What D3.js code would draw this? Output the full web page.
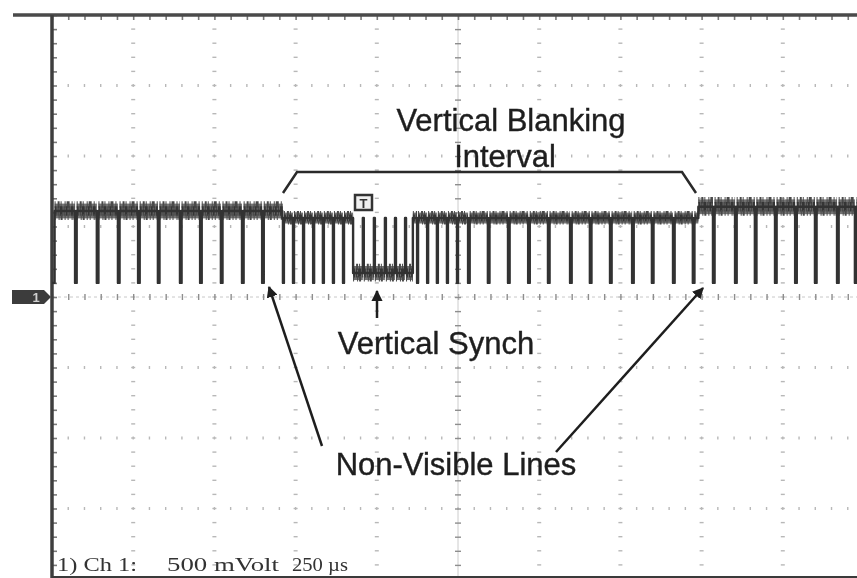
<!DOCTYPE html>
<html>
<head>
<meta charset="utf-8">
<script src="https://cdn.jsdelivr.net/npm/d3@7"></script>
<style>
  body { margin: 0; background: #fff; }
  svg { display: block; }
  .note { font-family: "Liberation Sans", Arial, sans-serif; font-size: 31px; fill: #1e1e1e; stroke: #1e1e1e; stroke-width: 0.4px; }
  .readout { font-family: "Liberation Serif", "Times New Roman", serif; font-size: 19px; fill: #333; }
</style>
</head>
<body>
<div class="chart"></div>
<script>
var svgWidth = 857;
var svgHeight = 578;

// time in microseconds, 250 us / div ; volts, 500 mV / div
// sync pulses of the visible lines before the blanking interval
var linesBefore = [71, 138, 203, 265, 326, 394, 456, 520, 585, 647];
// pre-equalizing pulses (half line)
var preEq = [711, 742, 773, 804, 834, 865, 896];
// vertical sync broad pulse and its serrations
var vsync = [927, 1111];
var serrations = [957, 991, 1025, 1056, 1087];
// post-equalizing pulses
var postEq = [1124, 1155, 1185, 1216, 1247];
// non-visible lines inside the blanking interval
var blankLines = [1281, 1342, 1404, 1466, 1527, 1595, 1656, 1718, 1786, 1847, 1912, 1973];
// visible lines after the blanking interval
var linesAfter = [2035, 2103, 2164, 2226, 2288, 2349, 2417, 2472];
var vbiEnd = 1990;

// levels (V)
var syncTip = 0.10;
var vsyncLow = 0.17;
var blankLevel = 0.56;
var videoBefore = 0.61;
var videoAfter = 0.64;

// scope readout
var readout = ["1) Ch 1:", "500 mVolt", "250 µs"];

var margin = { left: 52, top: 15 };
var gridRight = 864;
var gridBottom = 579;

var x = d3.scaleLinear().domain([0, 2500]).range([margin.left, gridRight]);
var y = d3.scaleLinear().domain([-2, 2]).range([gridBottom, margin.top]);

var svg = d3.select(".chart")
  .append("svg")
  .attr("width", svgWidth)
  .attr("height", svgHeight);

var defs = svg.append("defs");
defs.append("filter")
  .attr("id", "soft")
  .append("feGaussianBlur")
  .attr("stdDeviation", 0.7);

// ---------- graticule ----------
var majorT = d3.range(0, 2501, 250);
var minorT = d3.range(0, 2501, 50);
var majorV = d3.range(-2, 2.01, 0.5);
var minorV = d3.range(-2, 2.001, 0.1);

var grid = svg.append("g").attr("class", "grid").attr("filter", "url(#soft)");

// horizontal dotted lines
majorV.filter(v => Math.abs(v) > 0.01 && v < 1.99).forEach(function(v) {
  grid.selectAll(null)
    .data(minorT)
    .enter()
    .append("line")
    .attr("x1", d => x(d)).attr("x2", d => x(d))
    .attr("y1", y(v) - 1.5).attr("y2", y(v) + 1.5)
    .attr("stroke", "#b8b8b8")
    .attr("stroke-width", 1.4);
});

// vertical dotted lines
majorT.filter(t => t > 0 && t !== 1250).forEach(function(t) {
  grid.selectAll(null)
    .data(minorV)
    .enter()
    .append("line")
    .attr("x1", x(t) - 2).attr("x2", x(t) + 2)
    .attr("y1", d => y(d)).attr("y2", d => y(d))
    .attr("stroke", "#b8b8b8")
    .attr("stroke-width", 1.4);
});

// centre lines with ticks
grid.append("line")
  .attr("x1", x(0)).attr("x2", gridRight)
  .attr("y1", y(0)).attr("y2", y(0))
  .attr("stroke", "#c8c8c8")
  .attr("stroke-dasharray", "3,3");
grid.append("g")
  .attr("transform", `translate(0, ${y(0) - 3})`)
  .call(d3.axisBottom(x).tickValues(minorT).tickSize(6).tickFormat(""))
  .call(g => g.select(".domain").remove())
  .selectAll("line").attr("stroke", "#8e8e8e").attr("stroke-width", 1.4);

grid.append("line")
  .attr("x1", x(1250)).attr("x2", x(1250))
  .attr("y1", y(2)).attr("y2", gridBottom)
  .attr("stroke", "#cccccc");
grid.append("g")
  .attr("transform", `translate(${x(1250) - 3}, 0)`)
  .call(d3.axisRight(y).tickValues(minorV).tickSize(6).tickFormat(""))
  .call(g => g.select(".domain").remove())
  .selectAll("line").attr("stroke", "#8e8e8e").attr("stroke-width", 1.4);

// top and left borders with ticks
svg.append("g")
  .attr("transform", `translate(0, ${margin.top})`)
  .call(d3.axisBottom(x).tickValues(minorT).tickSize(5).tickFormat(""))
  .call(g => g.select(".domain").remove())
  .selectAll("line").attr("stroke", "#7a7a7a").attr("stroke-width", 1.6);
svg.append("g")
  .attr("transform", `translate(${margin.left}, 0)`)
  .call(d3.axisRight(y).tickValues(minorV).tickSize(5).tickFormat(""))
  .call(g => g.select(".domain").remove())
  .selectAll("line").attr("stroke", "#7a7a7a").attr("stroke-width", 1.6);

svg.append("line")
  .attr("x1", 13).attr("x2", svgWidth)
  .attr("y1", margin.top).attr("y2", margin.top)
  .attr("stroke", "#4a4a4a").attr("stroke-width", 3.5);
svg.append("line")
  .attr("x1", margin.left).attr("x2", margin.left)
  .attr("y1", margin.top).attr("y2", svgHeight)
  .attr("stroke", "#3e3e3e").attr("stroke-width", 3.5);

// ---------- trace ----------
var pts = [];
var bands = [];   // [t0, t1, level, thickness]
var prevEnd = 8;
function pulse(t, w, high, low) {
  pts.push([t, high], [t, low], [t + w, low], [t + w, high]);
}

pts.push([0, syncTip], [8, syncTip], [8, videoBefore]);
linesBefore.forEach(function(t) {
  bands.push([prevEnd, t, videoBefore, 19]);
  pulse(t, 5, videoBefore, syncTip);
  prevEnd = t + 5;
});
bands.push([prevEnd, preEq[0], videoBefore, 19]);
pts.push([preEq[0] - 2, videoBefore], [preEq[0] - 2, blankLevel]);
prevEnd = preEq[0];
preEq.forEach(function(t) {
  bands.push([prevEnd, t, blankLevel, 14]);
  pulse(t, 3, blankLevel, syncTip);
  prevEnd = t + 3;
});
bands.push([prevEnd, vsync[0], blankLevel, 14]);
pts.push([vsync[0], blankLevel], [vsync[0], vsyncLow]);
prevEnd = vsync[0];
serrations.forEach(function(t) {
  bands.push([prevEnd, t, vsyncLow, 18]);
  pulse(t, 3, vsyncLow, blankLevel);
  prevEnd = t + 3;
});
bands.push([prevEnd, vsync[1], vsyncLow, 18]);
pts.push([vsync[1], vsyncLow], [vsync[1], blankLevel]);
prevEnd = vsync[1];
postEq.concat(blankLines).forEach(function(t) {
  bands.push([prevEnd, t, blankLevel, 14]);
  pulse(t, t < 1260 ? 3 : 5, blankLevel, syncTip);
  prevEnd = t + (t < 1260 ? 3 : 5);
});
bands.push([prevEnd, vbiEnd, blankLevel, 14]);
pts.push([vbiEnd, blankLevel], [vbiEnd, videoAfter]);
prevEnd = vbiEnd;
linesAfter.forEach(function(t) {
  bands.push([prevEnd, t, videoAfter, 19]);
  pulse(t, 5, videoAfter, syncTip);
  prevEnd = t + 5;
});
bands.push([prevEnd, 2500, videoAfter, 19]);
pts.push([2500, videoAfter]);

var trace = svg.append("g").attr("class", "trace").attr("filter", "url(#soft)");

// body of the noisy band
trace.selectAll(".band")
  .data(bands)
  .enter()
  .append("line")
  .attr("class", "band")
  .attr("x1", d => x(d[0])).attr("x2", d => x(d[1]))
  .attr("y1", d => y(d[2])).attr("y2", d => y(d[2]))
  .attr("stroke", "#5a5a5a")
  .attr("stroke-width", d => d[3] * 0.78)
  .attr("opacity", 0.85);

// speckle layers: upper, middle and lower part of the band
var hatchLayers = [
  { dy: -0.34, w: 0.34, dash: "1,2,2,1,1,3,1,1,3,2", col: "#4a4a4a" },
  { dy: 0, w: 0.5, dash: "2,1,1,1,3,1,1,1", col: "#363636" },
  { dy: 0.32, w: 0.3, dash: "1,3,1,1,2,2,1,2", col: "#4a4a4a" }
];
hatchLayers.forEach(function(layer) {
  trace.selectAll(null)
    .data(bands)
    .enter()
    .append("line")
    .attr("x1", d => x(d[0])).attr("x2", d => x(d[1]))
    .attr("y1", d => y(d[2]) + layer.dy * d[3]).attr("y2", d => y(d[2]) + layer.dy * d[3])
    .attr("stroke", layer.col)
    .attr("stroke-width", d => d[3] * layer.w)
    .attr("stroke-dasharray", layer.dash);
});

var line = d3.line()
  .x(d => x(d[0]))
  .y(d => y(d[1]));

trace.append("path")
  .datum(pts)
  .attr("d", line)
  .attr("fill", "none")
  .attr("stroke", "#333")
  .attr("stroke-width", 2.4)
  .attr("stroke-linejoin", "round");

// trigger marker
svg.append("rect")
  .attr("x", 355).attr("y", 195).attr("width", 17).attr("height", 15)
  .attr("fill", "#f0f0f0").attr("stroke", "#333").attr("stroke-width", 2.5);
svg.append("text")
  .attr("x", 363.5).attr("y", 208)
  .attr("text-anchor", "middle")
  .attr("font-family", "Liberation Sans, Arial")
  .attr("font-weight", "bold")
  .attr("font-size", "13px")
  .attr("fill", "#333")
  .text("T");

// channel 1 ground marker
svg.append("path")
  .attr("d", `M12,${y(0) - 7} H44 L51,${y(0)} L44,${y(0) + 7} H12 Z`)
  .attr("fill", "#3c3c3c");
svg.append("text")
  .attr("x", 36).attr("y", y(0) + 5)
  .attr("text-anchor", "middle")
  .attr("font-family", "Liberation Sans, Arial")
  .attr("font-weight", "bold")
  .attr("font-size", "13px")
  .attr("fill", "#d0d0d0")
  .text("1");

// ---------- annotations ----------
defs.append("marker")
  .attr("id", "arrow")
  .attr("viewBox", "0 0 10 10")
  .attr("refX", 9).attr("refY", 5)
  .attr("markerWidth", 4.5).attr("markerHeight", 4.5)
  .attr("orient", "auto")
  .append("path")
  .attr("d", "M0,0 L10,5 L0,10 Z")
  .attr("fill", "#1e1e1e");

var notes = svg.append("g");

notes.append("path")
  .attr("d", "M283,193 L297,172 L682,172 L696,193")
  .attr("fill", "none")
  .attr("stroke", "#2a2a2a")
  .attr("stroke-width", 2.5);

notes.append("text").attr("class", "note")
  .attr("x", 511).attr("y", 131).attr("text-anchor", "middle")
  .text("Vertical Blanking");
notes.append("text").attr("class", "note")
  .attr("x", 505).attr("y", 167).attr("text-anchor", "middle")
  .text("Interval");

notes.append("line")
  .attr("x1", 377).attr("y1", 318).attr("x2", 377).attr("y2", 291)
  .attr("stroke", "#1e1e1e").attr("stroke-width", 2.5)
  .attr("marker-end", "url(#arrow)");
notes.append("text").attr("class", "note")
  .attr("x", 436).attr("y", 354).attr("text-anchor", "middle")
  .text("Vertical Synch");

notes.append("line")
  .attr("x1", 322).attr("y1", 446).attr("x2", 269).attr("y2", 287)
  .attr("stroke", "#1e1e1e").attr("stroke-width", 2.5)
  .attr("marker-end", "url(#arrow)");
notes.append("line")
  .attr("x1", 556).attr("y1", 452).attr("x2", 703).attr("y2", 288)
  .attr("stroke", "#1e1e1e").attr("stroke-width", 2.5)
  .attr("marker-end", "url(#arrow)");
notes.append("text").attr("class", "note")
  .attr("x", 456).attr("y", 475).attr("text-anchor", "middle")
  .text("Non-Visible Lines");

// ---------- readout ----------
var readX = [57, 167, 292];
var readW = [80, 112, 56];
svg.selectAll(".readout")
  .data(readout)
  .enter()
  .append("text")
  .attr("class", "readout")
  .attr("x", (d, i) => readX[i])
  .attr("y", 571)
  .attr("textLength", (d, i) => readW[i])
  .attr("lengthAdjust", "spacingAndGlyphs")
  .text(d => d);

svg.append("line")
  .attr("x1", margin.left).attr("x2", svgWidth)
  .attr("y1", 577).attr("y2", 577)
  .attr("stroke", "#3a3a3a").attr("stroke-width", 2);
</script>
</body>
</html>
